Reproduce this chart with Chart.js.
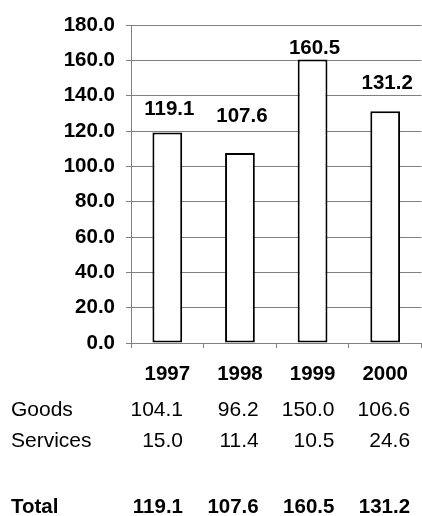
<!DOCTYPE html>
<html>
<head>
<meta charset="utf-8">
<script src="https://cdn.jsdelivr.net/npm/chart.js@4"></script>
<style>
  html, body { margin: 0; padding: 0; background: #fff; }
  #wrap { width: 422px; height: 516px; position: relative; }
</style>
</head>
<body>
<div id="wrap"><canvas id="chart"></canvas></div>
<script>
// data
const years = ['1997', '1998', '1999', '2000'];
const goods = [104.1, 96.2, 150.0, 106.6];
const services = [15.0, 11.4, 10.5, 24.6];
const totals = [119.1, 107.6, 160.5, 131.2];
const yTicks = [0, 20, 40, 60, 80, 100, 120, 140, 160, 180];

// how far each value label sits above its bar (px)
const labelGap = [18, 31, 5, 22];

const FONT = '"Liberation Sans", Arial, sans-serif';

// value labels above the bars
const barLabels = {
    id: 'barLabels',
    afterDatasetsDraw(chart) {
        const ctx = chart.ctx;
        const meta = chart.getDatasetMeta(0);
        ctx.save();
        ctx.font = 'bold 20.5px ' + FONT;
        ctx.fillStyle = '#000';
        ctx.textAlign = 'center';
        ctx.textBaseline = 'alphabetic';
        meta.data.forEach((bar, i) => {
            ctx.fillText(totals[i].toFixed(1), bar.x + 2, bar.y - labelGap[i]);
        });
        ctx.restore();
    }
};

// the little table under the axis
const dataTable = {
    id: 'dataTable',
    afterDraw(chart) {
        const ctx = chart.ctx;
        const rows = [
            { name: 'Goods', vals: goods, y: 416, bold: false },
            { name: 'Services', vals: services, y: 447, bold: false },
            { name: 'Total', vals: totals, y: 513, bold: true }
        ];
        ctx.save();
        ctx.fillStyle = '#000';
        ctx.textBaseline = 'alphabetic';
        rows.forEach(r => {
            ctx.font = r.bold ? 'bold 20.5px ' + FONT : '21px ' + FONT;
            ctx.textAlign = 'left';
            ctx.fillText(r.name, 11, r.y);
            ctx.textAlign = 'right';
            r.vals.forEach((v, i) => {
                ctx.fillText(v.toFixed(1), 183 + i * 75.7, r.y);
            });
        });
        ctx.restore();
    }
};

const ctx = document.getElementById('chart').getContext('2d');
new Chart(ctx, {
    type: 'bar',
    data: {
        labels: years,
        datasets: [{
            data: totals,
            backgroundColor: '#fff',
            borderColor: '#000',
            borderWidth: 2,
            borderSkipped: false,
            barPercentage: 0.41,
            categoryPercentage: 1
        }]
    },
    options: {
        responsive: true,
        maintainAspectRatio: false,
        animation: false,
        layout: { padding: { top: 25, right: 0, left: 0, bottom: 0 } },
        plugins: { legend: { display: false }, tooltip: { enabled: false } },
        scales: {
            y: {
                min: 0,
                max: 180,
                afterBuildTicks(scale) { scale.ticks = yTicks.map(v => ({ value: v })); },
                afterFit(scale) { scale.width = 131; },
                ticks: {
                    padding: 11,
                    color: '#000',
                    font: { family: FONT, size: 20.5, weight: 'bold' },
                    callback: v => v.toFixed(1)
                },
                grid: { color: '#808080', lineWidth: 1, tickLength: 5 },
                border: { color: '#808080', width: 1 }
            },
            x: {
                afterFit(scale) { scale.height = 173; },
                ticks: {
                    padding: 14,
                    color: '#000',
                    font: { family: FONT, size: 20.5, weight: 'bold' }
                },
                grid: { drawOnChartArea: false, color: '#808080', tickLength: 5 },
                border: { color: '#808080', width: 1 }
            }
        }
    },
    plugins: [barLabels, dataTable]
});
</script>
</body>
</html>
